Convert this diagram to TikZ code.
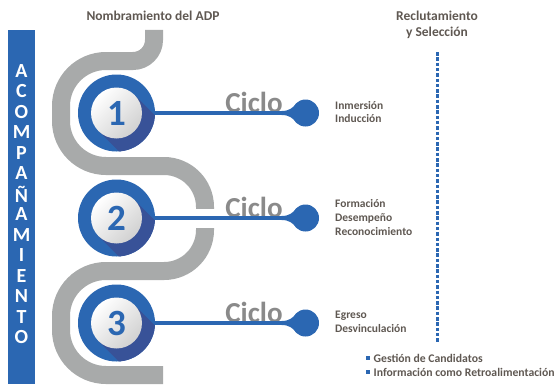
\documentclass[tikz,border=0pt]{standalone}
\usepackage{fontspec}
\setmainfont{Carlito}
\usetikzlibrary{calc}
\definecolor{cblue}{RGB}{43,103,178}
\definecolor{cshadow}{RGB}{56,82,152}
\definecolor{cgray}{RGB}{168,170,170}
\definecolor{ctext}{RGB}{95,88,82}
\definecolor{cciclo}{RGB}{138,138,138}
\begin{document}
\begin{tikzpicture}[x=1pt,y=1pt,
  titletext/.style={font=\bfseries\fontsize{13.5}{16}\selectfont, text=ctext, align=center, inner sep=0},
  labeltext/.style={font=\bfseries\fontsize{11.5}{13.8}\selectfont, text=ctext, align=left, anchor=west, inner sep=0},
  bullettext/.style={font=\bfseries\fontsize{11.7}{14}\selectfont, text=ctext, anchor=west, inner sep=0},
  ciclotext/.style={font=\bfseries\fontsize{29}{30}\selectfont, text=cciclo, anchor=base, inner sep=0},
  numtext/.style={font=\bfseries\fontsize{37}{37}\selectfont, text=cblue},
  lettertext/.style={font=\bfseries\fontsize{20}{20}\selectfont, text=white, inner sep=0},
  ring/.style={circle, minimum size=77pt, inner sep=0},
  dot/.style={circle, fill=cblue, minimum size=27pt, inner sep=0},
  bulletsq/.style={fill=cblue, minimum size=4.5pt, inner sep=0},
  band/.style={cgray, line width=18pt},
  link/.style={cblue, line width=4pt},
]
\useasboundingbox (0,0) rectangle (560,384);

% left bar
\fill[cblue] (8,0) rectangle (35,354);
\foreach \L [count=\i from 0] in {A,C,O,M,P,A,Ñ,A,M,I,E,N,T,O}
  \node[lettertext] (let\i) at (21.5,{313-20.5*\i}) {\L};

% titles
\node[titletext] (t1) at (153,368) {Nombramiento del ADP};
\node[titletext] (t2) at (437,359) {Reclutamiento\\y Selección};

% gray band
\draw[band] (154,354) -- (154,344) arc (0:-90:21) -- (106,323)
  arc (90:180:45) -- (61,263) arc (180:270:45) -- (164,218)
  arc (90:0:41) -- (205,154) arc (0:-90:41) -- (106,113)
  arc (90:180:45) -- (61,54) arc (180:270:45) -- (163,9);
\draw[white, line width=19pt] (186,166) -- (222,166);

% cycles
\foreach \n/\y/\ly/\labtxt in {1/271/272/{Inmersión\\Inducción},
  2/166/166.5/{Formación\\Desempeño\\Reconocimiento},
  3/61/62/{Egreso\\Desvinculación}}{
  \node[ring] (c\n) at (116.5,\y) {};
  \fill[cblue] (c\n.center) circle (38.5);
  \begin{scope}
    \clip (c\n.center) circle (38.5);
    \fill[cshadow] ($(c\n.center)+(18,18)$) -- ++(45,-45) -- ++(-36,-36) -- ($(c\n.center)+(-18,-18)$) -- cycle;
  \end{scope}
  \shade[top color=white, bottom color=black!18, shading angle=45] (c\n.center) circle (25.5);
  \node[numtext] (num\n) at (c\n.center) {\n};
  \node[dot] (d\n) at (305.5,\y) {};
  \node[ciclotext] (cic\n) at (254,\y+1) {Ciclo};
  \draw[link] (c\n.east) -- (d\n.west);
  \fill[cblue] ($(d\n.center)+(-24,2)$) .. controls ($(d\n.center)+(-16,2)$) and ($(d\n.center)+(-13,5)$) .. ($(d\n.center)+(-8,10.5)$)
     -- ($(d\n.center)+(-8,-10.5)$) .. controls ($(d\n.center)+(-13,-5)$) and ($(d\n.center)+(-16,-2)$) .. ($(d\n.center)+(-24,-2)$) -- cycle;
  \node[labeltext] (lab\n) at (335,\ly) {\labtxt};
}

% dashed line
\coordinate (dtop) at (437,332);
\coordinate (dbot) at (437,41);
\draw[cblue, line width=3pt, dash pattern=on 3.5pt off 1.8pt] (dtop) -- (dbot);

% bullets
\node[bulletsq] (b1) at (368,26) {};
\node[bulletsq] (b2) at (368,12) {};
\node[bullettext] (bt1) at (373.5,26) {Gestión de Candidatos};
\node[bullettext] (bt2) at (373.5,12) {Información como Retroalimentación};
\end{tikzpicture}
\end{document}
